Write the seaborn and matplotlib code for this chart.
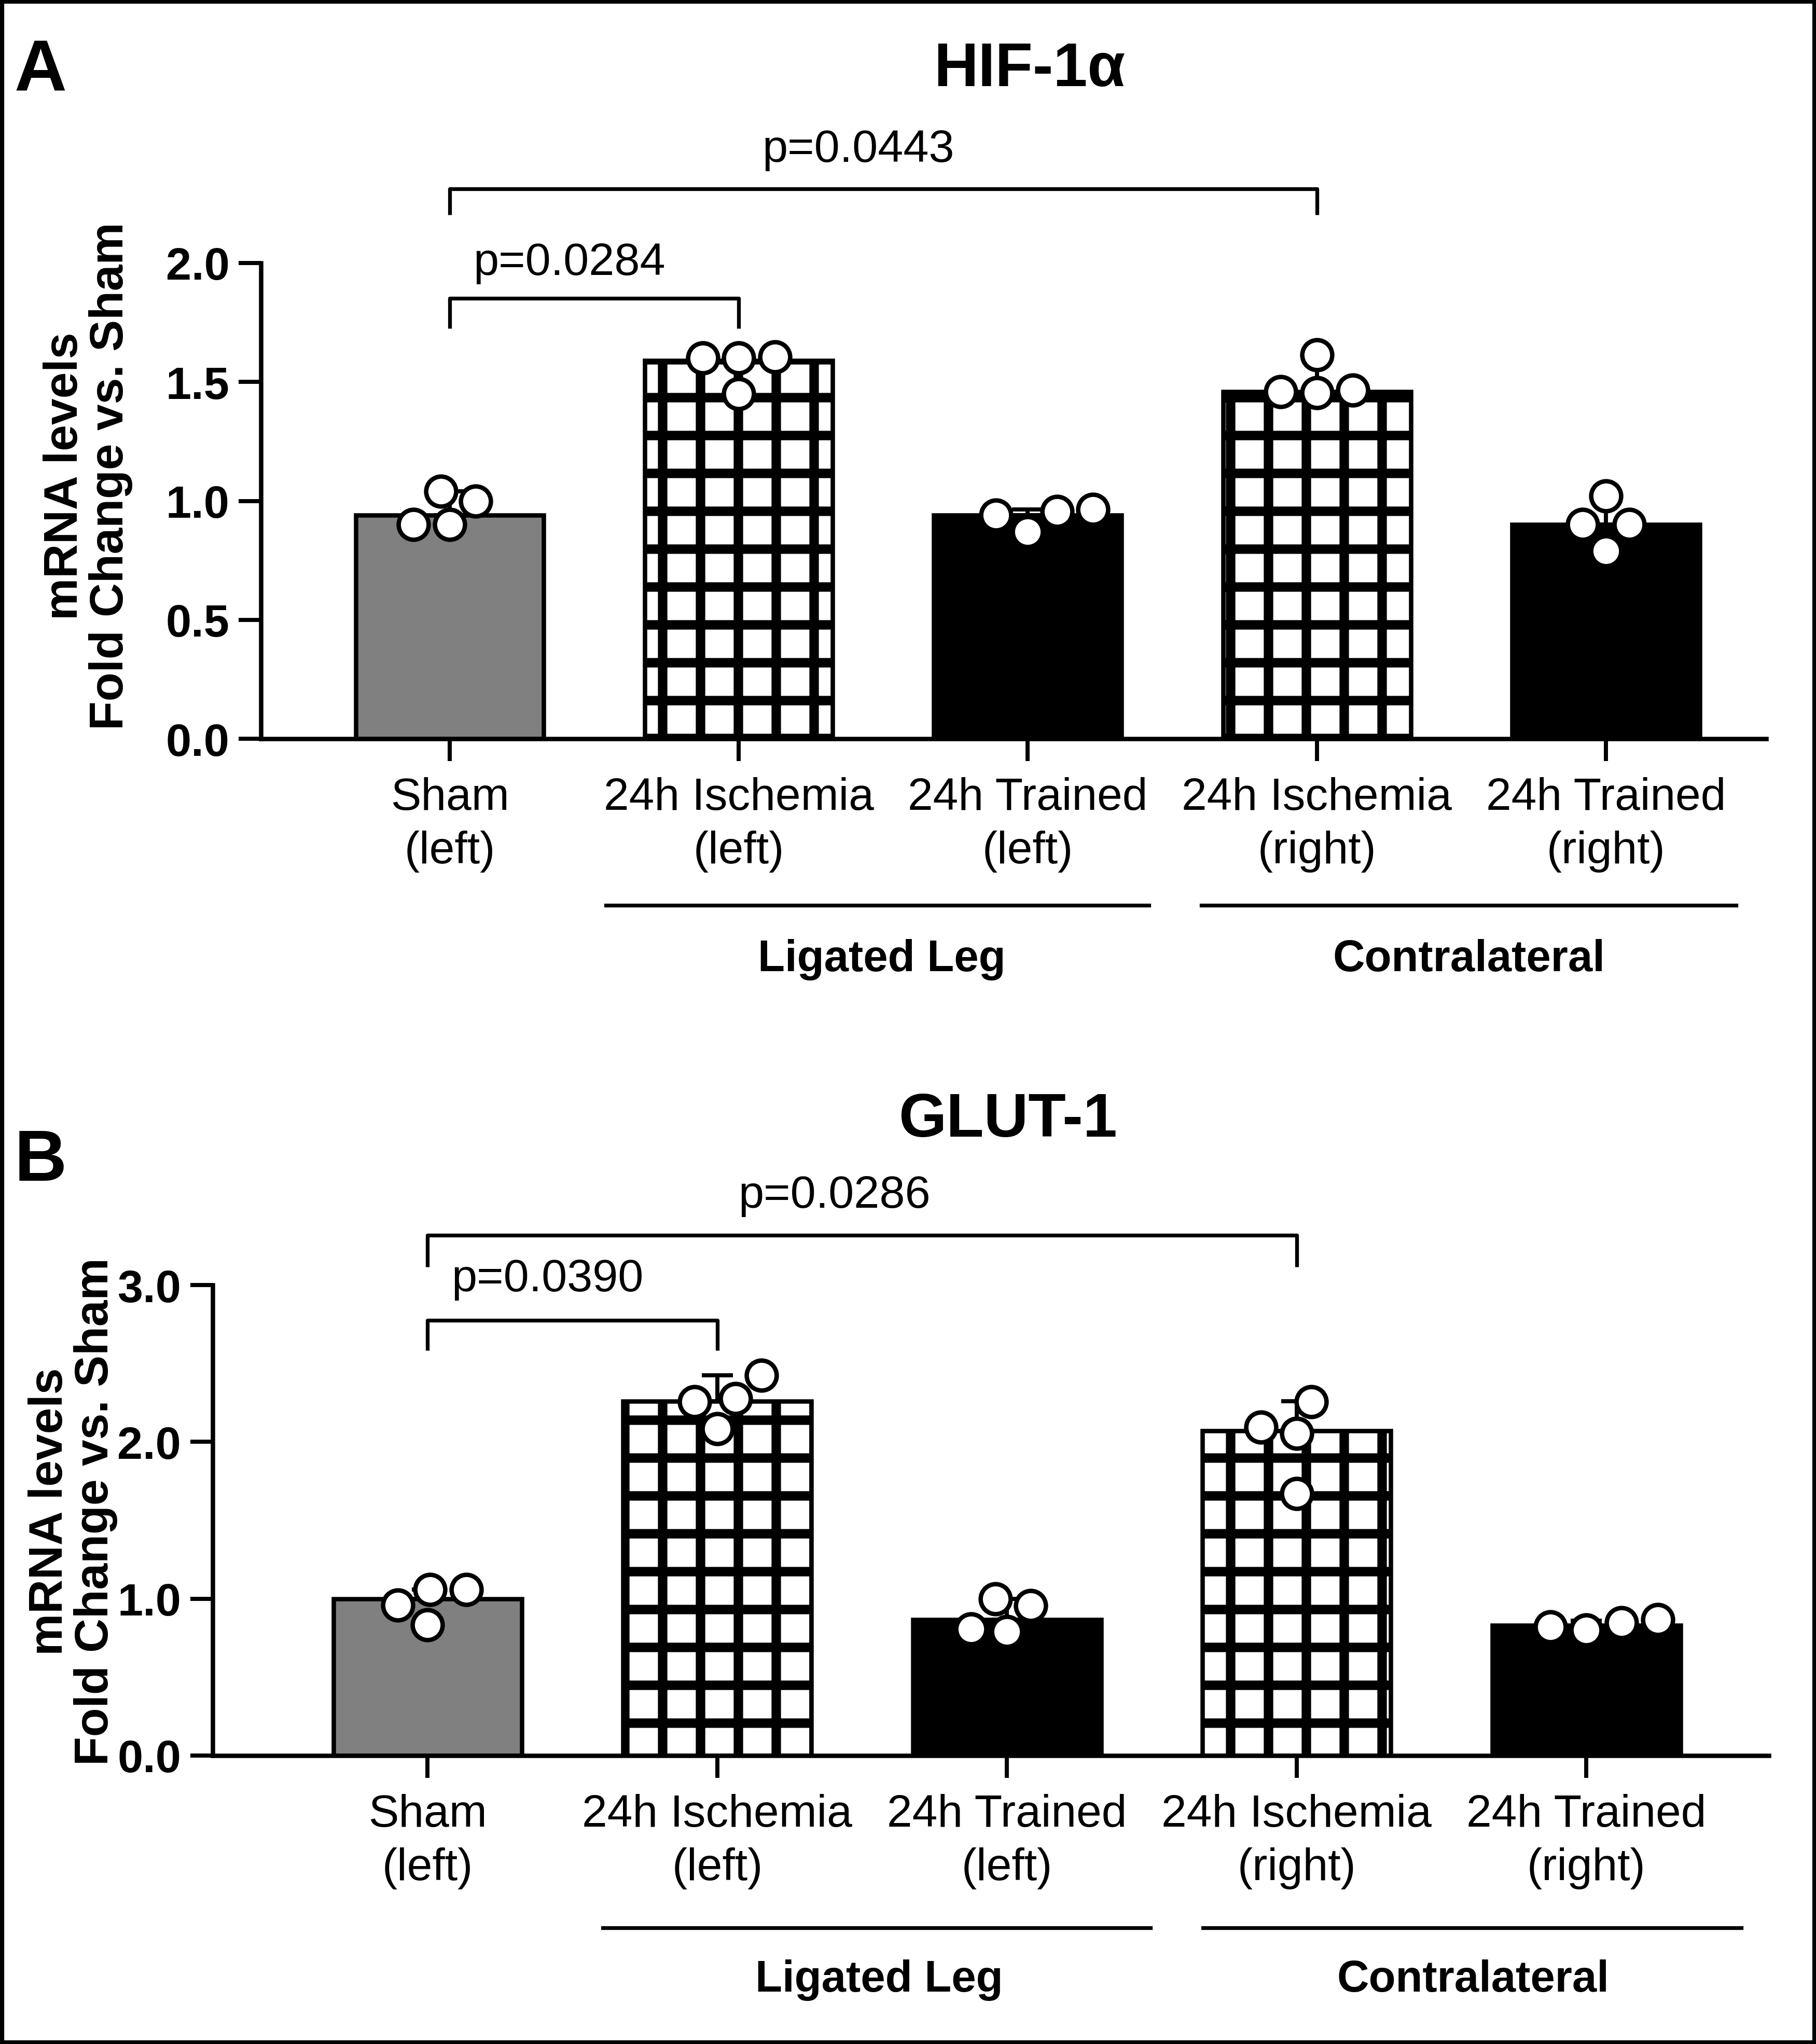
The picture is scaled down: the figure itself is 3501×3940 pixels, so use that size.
import matplotlib
matplotlib.use('Agg')
import numpy as np
import pandas as pd
import matplotlib.pyplot as plt
import seaborn as sns
from matplotlib.patches import Rectangle

# groups on the x axis
groups = ['Sham\n(left)', '24h Ischemia\n(left)', '24h Trained\n(left)',
          '24h Ischemia\n(right)', '24h Trained\n(right)']
colors = ['#808080', 'white', 'black', 'white', 'black']
hatched = [False, True, False, True, False]

# panel A: HIF-1a
hif_mean = [0.94, 1.59, 0.94, 1.46, 0.90]
hif_err = [0.10, 0.015, 0.025, 0.155, 0.12]
hif_pts = [[0.90, 1.00, 1.04, 0.90],
           [1.605, 1.60, 1.60, 1.45],
           [0.87, 0.965, 0.94, 0.955],
           [1.455, 1.615, 1.465, 1.46],
           [0.79, 1.02, 0.90, 0.90]]

# panel B: GLUT-1
glut_mean = [1.00, 2.26, 0.865, 2.07, 0.83]
glut_err = [0.06, 0.165, 0.135, 0.19, 0.03]
glut_pts = [[1.06, 0.835, 1.06, 0.96],
            [2.425, 2.085, 2.275, 2.255],
            [0.79, 0.955, 0.998, 0.806],
            [2.095, 2.255, 2.055, 1.67],
            [0.80, 0.865, 0.82, 0.847]]

DPI = 438
plt.rcParams['font.family'] = ['Liberation Sans', 'DejaVu Sans']
plt.rcParams['hatch.linewidth'] = 3.0
plt.rcParams['hatch.color'] = 'black'

fig = plt.figure(figsize=(3501 / DPI, 3941 / DPI), dpi=DPI)
axA = fig.add_axes([0.1437, 0.6384, 0.8289, 0.2327])
axB = fig.add_axes([0.1171, 0.1411, 0.8569, 0.2301])


def draw_panel(ax, means, errs, pts, ymax, yticks, xlim, ylab_pos):
    sns.barplot(x=groups, y=means, hue=groups, palette=colors, order=groups,
                width=0.65, edgecolor='black', linewidth=1.4, legend=False,
                errorbar=None, ax=ax, zorder=1)
    for p, h in zip(ax.patches, hatched):
        if h:
            p.set_hatch('+')
    ax.errorbar(np.arange(len(groups)), means, yerr=[np.zeros(len(errs)), errs],
                fmt='none', ecolor='black', elinewidth=1.3, capsize=5,
                capthick=1.3, zorder=2)
    df = pd.DataFrame({'group': np.repeat(groups, [len(v) for v in pts]),
                       'value': np.concatenate(pts)})
    sns.swarmplot(data=df, x='group', y='value', order=groups, size=9.5,
                  color='white', edgecolor='black', linewidth=1.4, ax=ax,
                  zorder=3, clip_on=False)
    ax.set_xlim(*xlim)
    ax.set_ylim(0, ymax)
    ax.set_yticks(yticks)
    ax.set_yticklabels(['%.1f' % t for t in yticks], fontsize=14.5,
                       fontweight='bold')
    ax.tick_params(axis='x', labelsize=14.4, length=7, width=1.3, pad=5)
    for lab in ax.get_xticklabels():
        lab.set_linespacing(1.35)
    ax.tick_params(axis='y', length=7, width=1.3, pad=3)
    for s in ['top', 'right']:
        ax.spines[s].set_visible(False)
    for s in ['left', 'bottom']:
        ax.spines[s].set_linewidth(1.4)
    ax.set_xlabel('')
    ax.set_ylabel('mRNA levels\nFold Change vs. Sham', fontsize=15,
                  fontweight='bold', linespacing=1.05)
    ax.yaxis.set_label_coords(*ylab_pos)


def bracket(ax, x0, x1, ytop, ybot, text, tx, ty):
    ax.plot([x0, x0, x1, x1], [ybot, ytop, ytop, ybot], color='black',
            lw=1.2, clip_on=False, solid_capstyle='butt')
    ax.text(tx, ty, text, ha='center', va='center', fontsize=14.5)


draw_panel(axA, hif_mean, hif_err, hif_pts, 2.0, [0.0, 0.5, 1.0, 1.5, 2.0],
           (-0.653, 4.555), (-0.085, 0.553))
draw_panel(axB, glut_mean, glut_err, glut_pts, 3.0, [0.0, 1.0, 2.0, 3.0],
           (-0.742, 4.63), (-0.061, 0.52))

bracket(axA, 0, 1, 1.852, 1.726, 'p=0.0284', 0.414, 2.0)
bracket(axA, 0, 3, 2.312, 2.203, 'p=0.0443', 1.414, 2.477)
bracket(axB, 0, 1, 2.776, 2.585, 'p=0.0390', 0.414, 3.04)
bracket(axB, 0, 3, 3.317, 3.117, 'p=0.0286', 1.405, 3.57)

# group underlines and labels
for ax, yl, yt, segs, cx in [
        (axA, -0.701, -0.926, [(0.54, 2.42), (2.60, 4.45)], [1.495, 3.527]),
        (axB, -1.097, -1.43, [(0.604, 2.495), (2.676, 4.536)], [1.559, 3.61])]:
    for (a, b) in segs:
        ax.plot([a, b], [yl, yl], color='black', lw=1.2, clip_on=False)
    for c, lab in zip(cx, ['Ligated Leg', 'Contralateral']):
        ax.text(c, yt, lab, ha='center', va='center', fontsize=14,
                fontweight='bold')

fig.text(0.567, 0.958, 'HIF-1α', ha='center', va='baseline', fontsize=19.5,
         fontweight='bold')
fig.text(0.555, 0.444, 'GLUT-1', ha='center', va='baseline', fontsize=19.5,
         fontweight='bold')
fig.text(0.008, 0.981, 'A', ha='left', va='top', fontsize=23, fontweight='bold')
fig.text(0.008, 0.448, 'B', ha='left', va='top', fontsize=23, fontweight='bold')

fig.patches.append(Rectangle((0, 0), 1, 1, transform=fig.transFigure,
                             fill=False, edgecolor='black', linewidth=2.5))

fig.savefig('out.png', dpi=DPI, facecolor='white')
